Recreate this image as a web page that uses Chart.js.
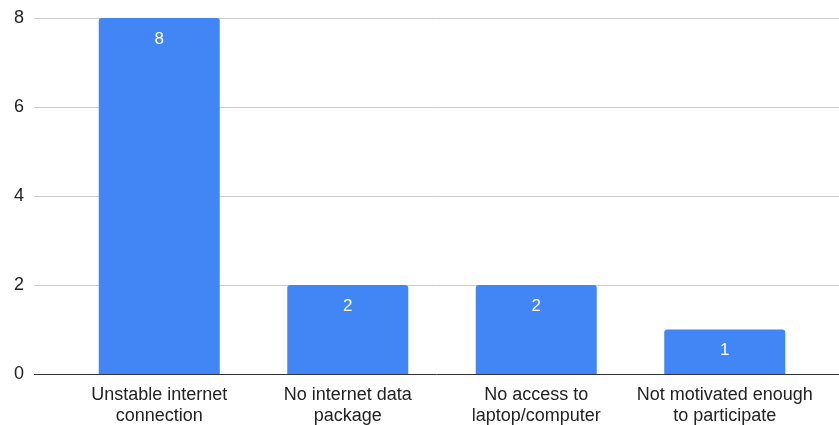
<!DOCTYPE html>
<html>
<head>
<meta charset="utf-8">
<script src="https://cdn.jsdelivr.net/npm/chart.js@4.4.1/dist/chart.umd.min.js"></script>
<style>
  html, body { margin: 0; padding: 0; background: #fff; }
  #chart { display: block; }
</style>
</head>
<body>
<canvas id="chart" width="839" height="425"></canvas>
<script>
const reasons = [
  ["Unstable internet", "connection"],
  ["No internet data", "package"],
  ["No access to", "laptop/computer"],
  ["Not motivated enough", "to participate"]
];
const counts = [8, 2, 2, 1];
const yTicks = [0, 2, 4, 6, 8];

const FONT = "Arial, 'Liberation Sans', sans-serif";
const BAR_BLUE = "#4285f4";

// gridlines run past the plot area on both sides, baseline drawn darker
const wideGrid = {
  id: "wideGrid",
  beforeDatasetsDraw(chart) {
    const y = chart.scales.y;
    const ctx = chart.ctx;
    ctx.save();
    ctx.lineWidth = 1;
    ctx.strokeStyle = "#cccccc";
    yTicks.forEach(v => {
      if (v === 0) return;
      const py = Math.round(y.getPixelForValue(v)) + 0.5;
      ctx.beginPath();
      ctx.moveTo(34, py);
      ctx.lineTo(chart.width, py);
      ctx.stroke();
    });
    ctx.restore();
  },
  afterDatasetsDraw(chart) {
    const y = chart.scales.y;
    const ctx = chart.ctx;
    const py = Math.round(y.getPixelForValue(0)) + 0.5;
    ctx.save();
    ctx.strokeStyle = "#333333";
    ctx.lineWidth = 1;
    ctx.beginPath();
    ctx.moveTo(34, py);
    ctx.lineTo(chart.width, py);
    ctx.stroke();
    ctx.restore();
  }
};

// value printed inside the top of each bar
const barValues = {
  id: "barValues",
  afterDatasetsDraw(chart) {
    const ctx = chart.ctx;
    const meta = chart.getDatasetMeta(0);
    ctx.save();
    ctx.fillStyle = "#ffffff";
    ctx.font = "17px " + FONT;
    ctx.textAlign = "center";
    ctx.textBaseline = "middle";
    meta.data.forEach((bar, i) => {
      ctx.fillText(String(counts[i]), bar.x, bar.y + 21);
    });
    ctx.restore();
  }
};

new Chart(document.getElementById("chart"), {
  type: "bar",
  data: {
    labels: reasons,
    datasets: [{
      data: counts,
      backgroundColor: BAR_BLUE,
      borderRadius: { topLeft: 3, topRight: 3, bottomLeft: 0, bottomRight: 0 },
      borderSkipped: "bottom",
      categoryPercentage: 1,
      barPercentage: 0.642
    }]
  },
  options: {
    responsive: false,
    animation: false,
    layout: { padding: { top: 18, right: 20, left: 0, bottom: 0 } },
    plugins: {
      legend: { display: false },
      tooltip: { enabled: false }
    },
    scales: {
      x: {
        grid: { display: false, drawTicks: false },
        border: { display: false },
        afterFit(scale) { scale.height = 51; },
        ticks: {
          color: "#222222",
          font: { family: FONT, size: 18 },
          padding: 10,
          maxRotation: 0,
          autoSkip: false
        }
      },
      y: {
        min: 0,
        max: 8,
        grid: { display: false, drawTicks: true, tickLength: 37 },
        border: { display: false },
        afterFit(scale) { scale.width = 65; },
        afterBuildTicks(scale) { scale.ticks = yTicks.map(v => ({ value: v })); },
        ticks: {
          color: "#222222",
          font: { family: FONT, size: 18 },
          padding: 4
        }
      }
    }
  },
  plugins: [wideGrid, barValues]
});
</script>
</body>
</html>
